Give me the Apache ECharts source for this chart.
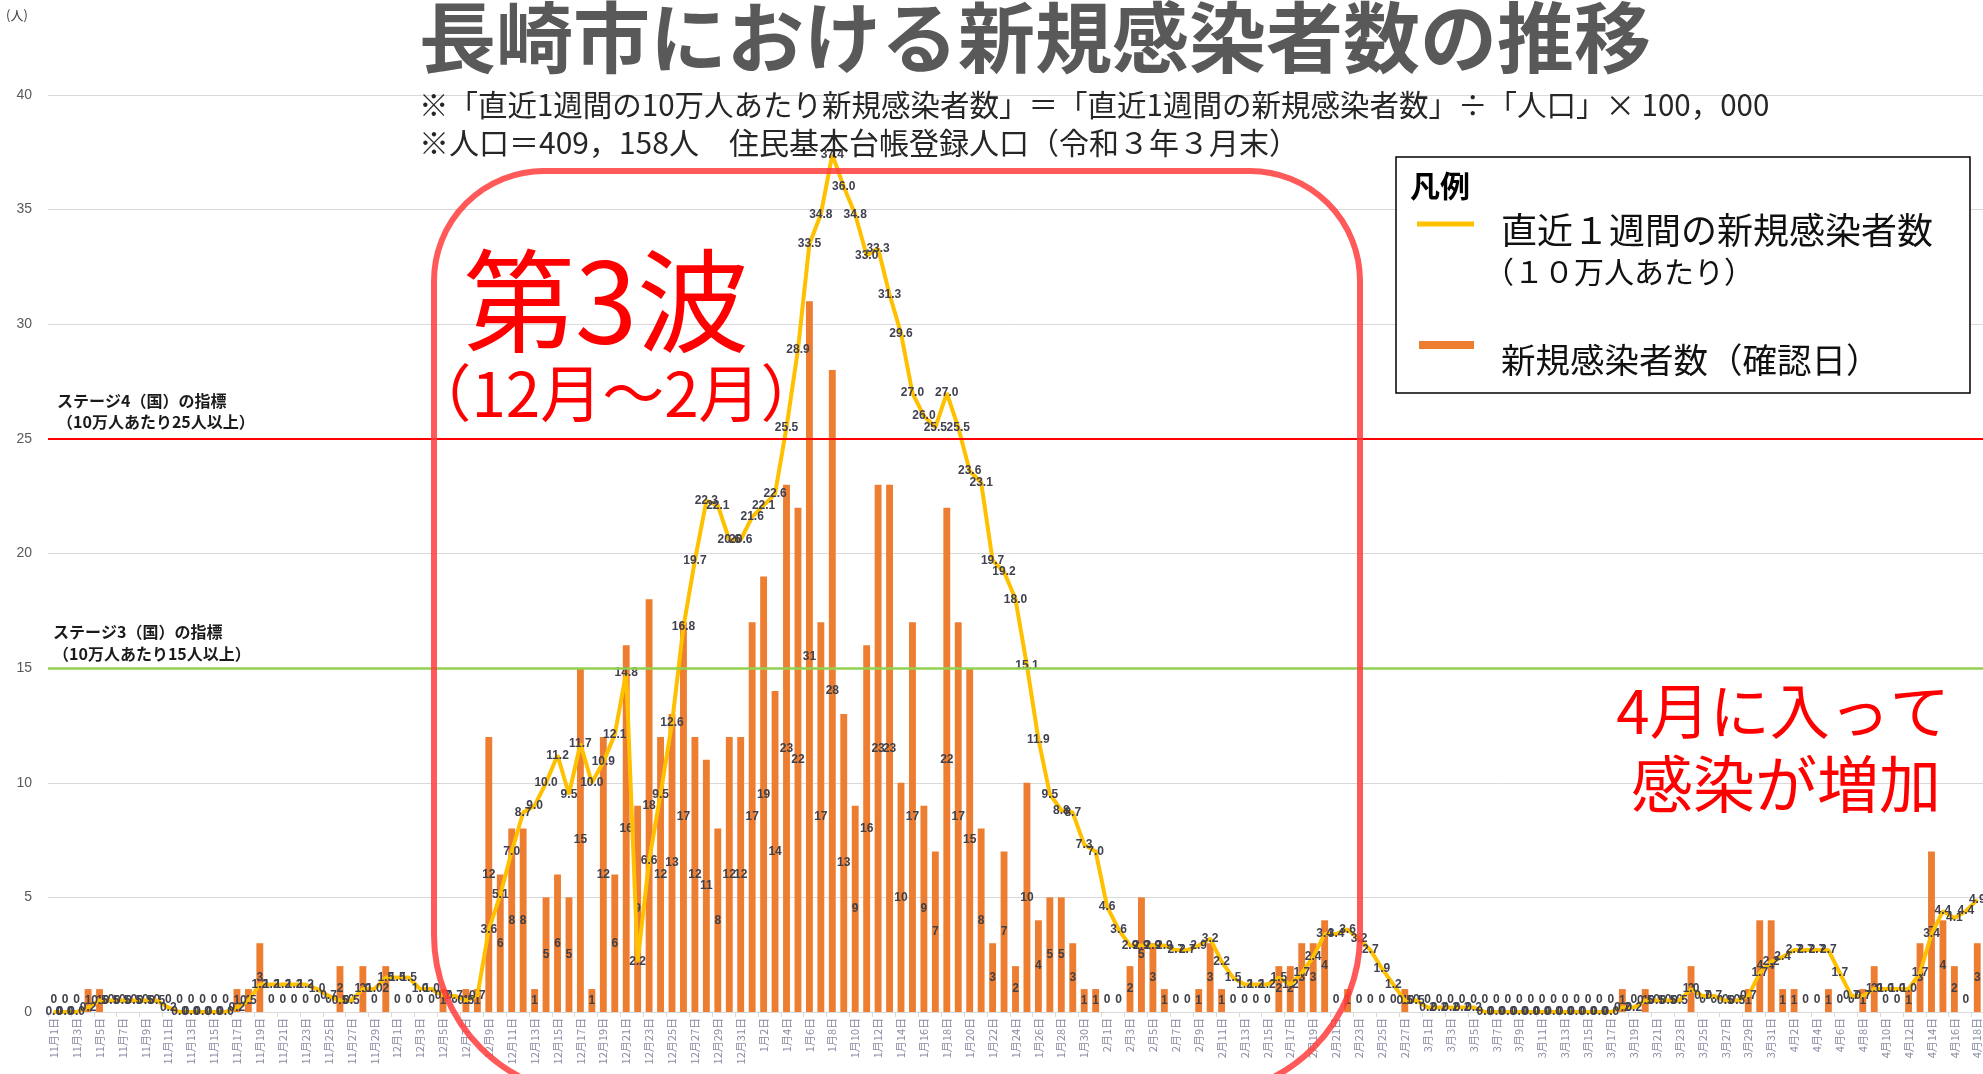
<!DOCTYPE html>
<html><head><meta charset="utf-8">
<script src="https://cdn.jsdelivr.net/npm/echarts@6/dist/echarts.min.js"></script>
<style>html,body{margin:0;padding:0;background:#fff}#c{width:1983px;height:1074px}</style>
</head><body><div id="c"></div>
<script>
// ---- categories (dates) ----
const months = [11, 12, 1, 2, 3, 4];
const monthDays = [30, 31, 31, 28, 31, 18];

// ---- daily new cases (bars) ----
const casesNov = [0,0,0,1,1,0,0,0,0,0, 0,0,0,0,0,0,1,1,3,0, 0,0,0,0,0,2,0,2,0,2];
const casesDec = [0,0,0,0,1,0,1,1,12,6, 8,8,1,5,6,5,15,1,12,6, 16,9,18,12,13,17,12,11,8,12, 12];
const casesJan = [17,19,14,23,22,31,17,28,13,9, 16,23,23,10,17,9,7,22,17,15, 8,3,7,2,10,4,5,5,3,1, 1];
const casesFeb = [0,0,2,5,3,1,0,0,1,3, 1,0,0,0,0,2,2,3,3,4, 0,1,0,0,0,0,1,0];
const casesMar = [0,0,0,0,0,0,0,0,0,0, 0,0,0,0,0,0,0,1,0,1, 0,0,0,2,0,0,0,0,1,4, 4];
const casesApr = [1,1,0,0,1,0,0,1,2,0, 0,1,3,7,4,2,0,3];

// ---- 7-day new cases per 100k (line) ----
const rateNov = [0.0,0.0,0.0,0.2,0.5,0.5,0.5,0.5,0.5,0.5, 0.2,0.0,0.0,0.0,0.0,0.0,0.2,0.5,1.2,1.2, 1.2,1.2,1.2,1.0,0.7,0.5,0.5,1.0,1.0,1.5];
const rateDec = [1.5,1.5,1.0,1.0,0.7,0.7,0.5,0.7,3.6,5.1, 7.0,8.7,9.0,10.0,11.2,9.5,11.7,10.0,10.9,12.1, 14.8,2.2,6.6,9.5,12.6,16.8,19.7,22.3,22.1,20.6, 20.6];
const rateJan = [21.6,22.1,22.6,25.5,28.9,33.5,34.8,37.4,36.0,34.8, 33.0,33.3,31.3,29.6,27.0,26.0,25.5,27.0,25.5,23.6, 23.1,19.7,19.2,18.0,15.1,11.9,9.5,8.8,8.7,7.3, 7.0];
const rateFeb = [4.6,3.6,2.9,2.9,2.9,2.9,2.7,2.7,2.9,3.2, 2.2,1.5,1.2,1.2,1.2,1.5,1.2,1.7,2.4,3.4, 3.4,3.6,3.2,2.7,1.9,1.2,0.5,0.5];
const rateMar = [0.2,0.2,0.2,0.2,0.2,0.0,0.0,0.0,0.0,0.0, 0.0,0.0,0.0,0.0,0.0,0.0,0.0,0.2,0.2,0.5, 0.5,0.5,0.5,1.0,0.7,0.7,0.5,0.5,0.7,1.7, 2.2];
const rateApr = [2.4,2.7,2.7,2.7,2.7,1.7,0.7,0.7,1.0,1.0, 1.0,1.0,1.7,3.4,4.4,4.1,4.4,4.9];

// ---- reference levels ----
const stage4Level = 25;
const stage3Level = 15;

const categories = [];
months.forEach((m, i) => { for (let d = 1; d <= monthDays[i]; d++) categories.push(m + '月' + d + '日'); });
const cases = [].concat(casesNov, casesDec, casesJan, casesFeb, casesMar, casesApr);
const rate = [].concat(rateNov, rateDec, rateJan, rateFeb, rateMar, rateApr);

const JP = "'Noto Sans CJK JP', sans-serif";
const LAB = "'Liberation Sans', Arial, sans-serif";

function txt(x, y, text, size, opts) {
  opts = opts || {};
  return {
    type: 'text', x: x, y: y, z: 100,
    style: {
      text: text, fontSize: size, fontFamily: opts.family || JP,
      fontWeight: opts.weight || 'normal', fill: opts.color || '#222',
      textAlign: opts.align || 'left', textVerticalAlign: 'middle', verticalAlign: 'middle'
    }
  };
}

const chart = echarts.init(document.getElementById('c'));
chart.setOption({
  animation: false,
  grid: { left: 48, right: 0, top: 95, bottom: 62 },
  xAxis: {
    type: 'category', data: categories,
    axisLine: { lineStyle: { color: '#d9d9d9' } },
    axisTick: { show: true, interval: 1, lineStyle: { color: '#d9d9d9' } },
    axisLabel: { interval: 1, rotate: 90, fontSize: 11, color: '#8b8ba3', fontFamily: JP, margin: 6 }
  },
  yAxis: {
    type: 'value', min: 0, max: 40, interval: 5,
    axisLabel: { fontSize: 14, color: '#595959', fontFamily: "'Liberation Sans Narrow','Liberation Sans',sans-serif", margin: 16 },
    splitLine: { lineStyle: { color: '#d9d9d9' } },
    axisLine: { show: false }, axisTick: { show: false }
  },
  series: [
    {
      type: 'bar', barWidth: '60%',
      data: cases.map(v => v === 0 ? { value: 0, label: { position: 'top', distance: 6 } } : v),
      itemStyle: { color: '#ED7D31' },
      label: { show: true, position: 'inside', fontSize: 12, fontWeight: 'bold', color: '#404048', fontFamily: LAB },
      markLine: {
        silent: true, symbol: 'none', label: { show: false },
        data: [
          { yAxis: stage4Level, lineStyle: { color: '#ff0000', width: 2, type: 'solid' } },
          { yAxis: stage3Level, lineStyle: { color: '#92D050', width: 2.5, type: 'solid' } }
        ]
      }
    },
    {
      type: 'line', data: rate, z: 3,
      symbol: 'circle', symbolSize: 1, showSymbol: true,
      lineStyle: { color: '#FFC000', width: 4 }, itemStyle: { color: '#FFC000' },
      label: { show: true, position: 'inside', fontSize: 12, fontWeight: 'bold', color: '#404050', fontFamily: LAB,
        formatter: p => Number(p.value).toFixed(1) }
    }
  ],
  graphic: [
    txt(17, 15, '(人)', 13, { align: 'center', color: '#404040' }),
    txt(419, 38, '長崎市における新規感染者数の推移', 77, { weight: 'bold', color: '#595959' }),
    txt(419, 105, '※「直近1週間の10万人あたり新規感染者数」＝「直近1週間の新規感染者数」÷「人口」× 100，000', 29.5, { color: '#262626' }),
    txt(419, 143, '※人口＝409，158人　住民基本台帳登録人口（令和３年３月末）', 30, { color: '#262626' }),
    txt(57, 401, 'ステージ4（国）の指標', 16, { weight: 'bold', color: '#1a1a1a' }),
    txt(57, 422, '（10万人あたり25人以上）', 16, { weight: 'bold', color: '#1a1a1a' }),
    txt(53, 632, 'ステージ3（国）の指標', 16, { weight: 'bold', color: '#1a1a1a' }),
    txt(53, 654, '（10万人あたり15人以上）', 16, { weight: 'bold', color: '#1a1a1a' }),
    {
      type: 'rect', z: 90,
      shape: { x: 434, y: 171, width: 926, height: 924, r: [110, 110, 160, 160] },
      style: { fill: 'none', stroke: 'rgba(255,60,60,0.85)', lineWidth: 6 }
    },
    txt(606, 301, '第3波', 112, { align: 'center', color: '#ff0000' }),
    txt(616, 393, '（12月～2月）', 62, { align: 'center', color: '#ff0000' }),
    txt(1783, 711, '4月に入って', 60, { align: 'center', color: '#ff0000' }),
    txt(1786, 784, '感染が増加', 62, { align: 'center', color: '#ff0000' }),
    {
      type: 'rect', z: 95,
      shape: { x: 1396, y: 157, width: 574, height: 236 },
      style: { fill: '#ffffff', stroke: '#000000', lineWidth: 1.5 }
    },
    txt(1410, 186, '凡例', 30, { weight: 'bold', color: '#000' }),
    { type: 'line', z: 100, shape: { x1: 1417, y1: 224, x2: 1474, y2: 224 }, style: { stroke: '#FFC000', lineWidth: 5 } },
    txt(1501, 230, '直近１週間の新規感染者数', 36, { color: '#111' }),
    txt(1484, 272, '（１０万人あたり）', 30, { color: '#111' }),
    { type: 'line', z: 100, shape: { x1: 1419, y1: 345, x2: 1474, y2: 345 }, style: { stroke: '#ED7D31', lineWidth: 8 } },
    txt(1501, 360, '新規感染者数（確認日）', 34.5, { color: '#111' })
  ]
});
</script>
</body></html>
